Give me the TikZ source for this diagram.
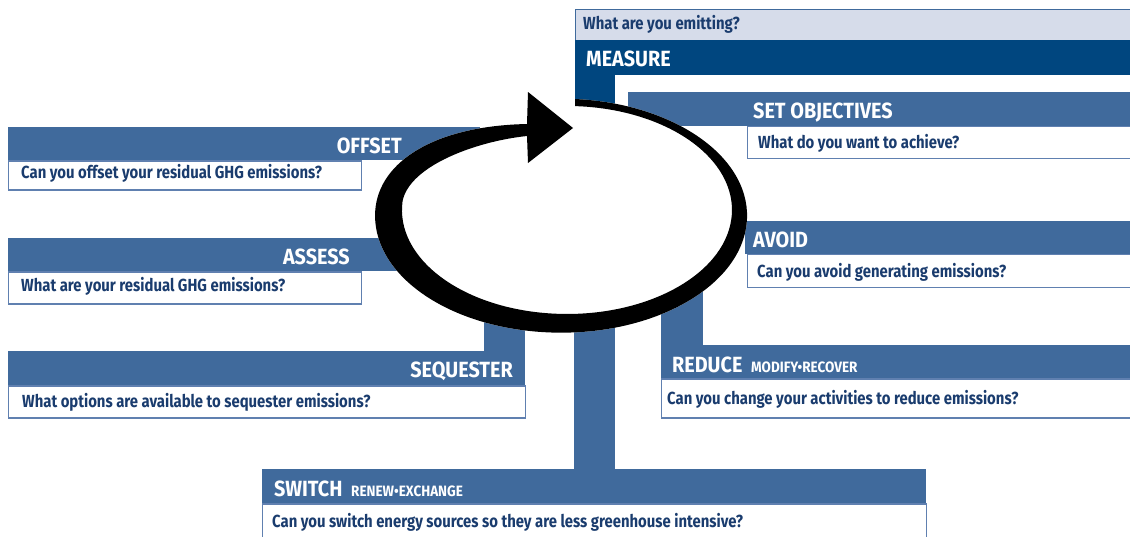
\documentclass[tikz,border=0pt]{standalone}
\usepackage{fontspec}
\setmainfont{Fira Sans}
\newfontfamily\headfont[FakeStretch=0.9]{Fira Sans}
\newfontfamily\askfont[FakeStretch=0.85]{Fira Sans}
\definecolor{barblue}{RGB}{64,106,156}
\definecolor{darkblue}{RGB}{0,70,127}
\definecolor{paleblue}{RGB}{214,220,234}
\definecolor{inkblue}{RGB}{26,60,110}
\definecolor{edgeblue}{RGB}{96,128,176}
\tikzset{
  bar/.style={fill=barblue, anchor=north west, inner sep=0pt},
  askbox/.style={draw=edgeblue, line width=1.2pt, fill=white, anchor=north west, inner sep=0pt},
  headtext/.style={text=white, inner sep=0pt, font=\headfont\bfseries\fontsize{22}{24}\selectfont},
  subtext/.style={text=white, inner sep=0pt, font=\headfont\bfseries\fontsize{15}{17}\selectfont},
  asktext/.style={text=inkblue, inner sep=0pt, anchor=base west, font=\askfont\bfseries\fontsize{17.5}{20}\selectfont},
  stem/.style={barblue, line width=41pt}
}
\begin{document}
\begin{tikzpicture}[x=1pt, y=-1pt]
        \useasboundingbox (0,0) rectangle (1130,536);
        \node[askbox, fill=paleblue, draw=barblue, minimum width=570pt, minimum height=31pt] (measureask) at (575,9) {};
        \node[bar, fill=darkblue, minimum width=570pt, minimum height=35pt] (measurehead) at (575,40) {};
        \node[asktext] (measureq) at (583,29) {What are you emitting?};
        \node[headtext, anchor=base west] (measurelabel) at (586,66) {MEASURE};
        \coordinate (ringtop) at (595,112);
        \draw[stem, darkblue, line width=40pt] (measurehead.south -| ringtop) -- (ringtop);
        \node[bar, minimum width=512pt, minimum height=34pt] (objhead) at (628,92) {};
        \node[askbox, minimum width=398pt, minimum height=32pt] (objask) at (747,126) {};
        \node[headtext, anchor=base west] (objlabel) at (753,118) {SET OBJECTIVES};
        \node[asktext] (objq) at (758,148) {What do you want to achieve?};
        \node[bar, minimum width=472pt, minimum height=33pt] (offsethead) at (8,127) {};
        \node[askbox, minimum width=353pt, minimum height=29pt] (offsetask) at (offsethead.south west) {};
        \node[headtext, anchor=base east] (offsetlabel) at (402,153) {OFFSET};
        \node[asktext] (offsetq) at (21,178) {Can you offset your residual GHG emissions?};
        \node[bar, minimum width=412pt, minimum height=33pt] (assesshead) at (8,238) {};
        \node[askbox, minimum width=353pt, minimum height=32pt] (assessask) at (assesshead.south west) {};
        \node[headtext, anchor=base east] (assesslabel) at (350,264) {ASSESS};
        \node[asktext] (assessq) at (21,291) {What are your residual GHG emissions?};
        \node[bar, minimum width=517pt, minimum height=34pt] (seqhead) at (8,351) {};
        \node[askbox, minimum width=517pt, minimum height=32pt] (seqask) at (seqhead.south west) {};
        \node[headtext, anchor=base east] (seqlabel) at (513,377) {SEQUESTER};
        \node[asktext] (seqq) at (22,407) {What options are available to sequester emissions?};
        \coordinate (ringseq) at (504.5,300);
        \draw[stem] (ringseq) -- (ringseq |- seqhead.north);
        \node[bar, minimum width=395pt, minimum height=33pt] (avoidhead) at (745,221) {};
        \node[askbox, minimum width=398pt, minimum height=33pt] (avoidask) at (747,254) {};
        \node[headtext, anchor=base west] (avoidlabel) at (753,247) {AVOID};
        \node[asktext] (avoidq) at (757,277) {Can you avoid generating emissions?};
        \node[bar, minimum width=479pt, minimum height=33pt] (reducehead) at (661,345) {};
        \node[askbox, minimum width=484pt, minimum height=39pt] (reduceask) at (reducehead.south west) {};
        \node[headtext, anchor=base west] (reducelabel) at (672,372) {REDUCE};
        \node[subtext, anchor=base west] (reducesub) at (751,372) {MODIFY•RECOVER};
        \node[asktext] (reduceq) at (667,404) {Can you change your activities to reduce emissions?};
        \coordinate (ringreduce) at (682,290);
        \draw[stem, line width=42pt] (ringreduce) -- (ringreduce |- reducehead.north);
        \node[bar, minimum width=664pt, minimum height=34pt] (switchhead) at (262,469) {};
        \node[askbox, minimum width=664pt, minimum height=40pt] (switchask) at (switchhead.south west) {};
        \node[headtext, anchor=base west] (switchlabel) at (274,496) {SWITCH};
        \node[subtext, anchor=base west] (switchsub) at (351,496) {RENEW•EXCHANGE};
        \node[asktext] (switchq) at (272,527) {Can you switch energy sources so they are less greenhouse intensive?};
        \coordinate (ringswitch) at (594.5,310);
        \draw[stem] (ringswitch) -- (ringswitch |- switchhead.north);
        \fill[white] (575,99) arc[start angle=85.7, end angle=-180, x radius=186pt, y radius=117pt]
            .. controls (375,165) and (430,126) .. (527,124) -- cycle;
        \fill[black] (575,99) arc[start angle=85.7, end angle=-180, x radius=186pt, y radius=117pt]
            .. controls (375,165) and (430,126) .. (527,124)
            -- (528,92) -- (573,128) -- (528,163) -- (527,136)
            .. controls (478,141) and (410,165) .. (402.6,200.9)
            arc[start angle=175, end angle=447.2, x radius=165pt, y radius=104pt] -- cycle;
    \end{tikzpicture}
\end{document}
